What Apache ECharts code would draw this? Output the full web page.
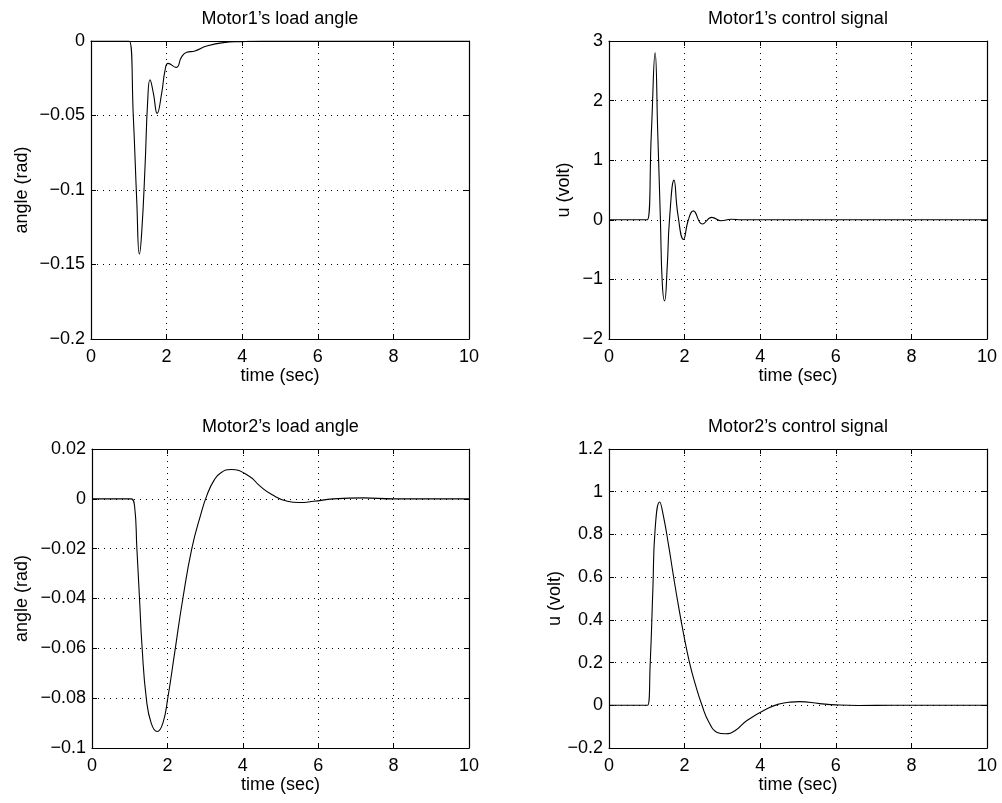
<!DOCTYPE html>
<html>
<head>
<meta charset="utf-8">
<script src="https://cdn.jsdelivr.net/npm/echarts@6/dist/echarts.min.js"></script>
<style>
  html, body { margin: 0; padding: 0; background: #fff; }
  #main { width: 1002px; height: 803px; }
</style>
</head>
<body>
<div id="main"></div>
<script type="text/javascript">
// Motor1's load angle (rad)
var m1AngleT = [0, 0.9, 1.01, 1.12, 1.21, 1.28, 1.34, 1.43, 1.50, 1.56, 1.65, 1.75, 1.87, 1.96, 2.04, 2.25, 2.40, 2.53, 2.75, 3.06, 3.5, 4.0, 4.55, 10];
var m1AngleY = [0, 0, 0, -0.051, -0.107, -0.143, -0.129, -0.084, -0.040, -0.026, -0.035, -0.0486, -0.035, -0.0195, -0.015, -0.0177, -0.0105, -0.0076, -0.0067, -0.0034, -0.0011, -0.0004, 0, 0];

// Motor1's control signal (volt)
var m1CtrlT = [0, 0.9, 1.01, 1.12, 1.22, 1.29, 1.36, 1.41, 1.47, 1.54, 1.6, 1.72, 1.82, 1.97, 2.1, 2.23, 2.47, 2.72, 2.97, 3.23, 3.5, 10];
var m1CtrlY = [0, 0, 0, 1.45, 2.80, 1.45, 0, -1.07, -1.36, -0.79, 0, 0.665, 0.1, -0.33, 0, 0.15, -0.07, 0.04, -0.017, 0.01, 0, 0];

// Motor2's load angle (rad)
var m2AngleT = [0, 0.9, 1.04, 1.13, 1.19, 1.26, 1.33, 1.44, 1.57, 1.73, 1.88, 2.01, 2.19, 2.41, 2.65, 2.89, 3.05, 3.24, 3.42, 3.69, 4.17, 4.45, 4.78, 5.18, 5.49, 5.88, 6.4, 7.2, 8, 10];
var m2AngleY = [0, 0, 0, -0.003, -0.0198, -0.040, -0.060, -0.080, -0.090, -0.0934, -0.090, -0.080, -0.062, -0.040, -0.0198, -0.006, 0.0015, 0.0075, 0.0105, 0.0118, 0.0091, 0.0052, 0.0016, -0.001, -0.0015, -0.001, 0, 0.0004, 0, 0];

// Motor2's control signal (volt)
var m2CtrlT = [0, 0.9, 1.02, 1.09, 1.16, 1.22, 1.34, 1.44, 1.58, 1.71, 1.84, 1.97, 2.13, 2.28, 2.46, 2.64, 2.86, 3.08, 3.34, 3.65, 4.22, 4.5, 4.8, 5.04, 5.57, 6.0, 6.6, 7.5, 10];
var m2CtrlY = [0, 0, 0, 0.196, 0.541, 0.824, 0.952, 0.886, 0.745, 0.6, 0.463, 0.337, 0.2, 0.1, 0, -0.078, -0.127, -0.133, -0.118, -0.071, -0.013, 0.006, 0.015, 0.017, 0.008, 0.002, -0.001, 0, 0];

var titles = ["Motor1\u2019s load angle", "Motor1\u2019s control signal", "Motor2\u2019s load angle", "Motor2\u2019s control signal"];
var yNames = ["angle (rad)", "u (volt)", "angle (rad)", "u (volt)"];
var yMin = [-0.2, -2, -0.1, -0.2];
var yMax = [0, 3, 0.02, 1.2];
var yStep = [0.05, 1, 0.02, 0.2];
var yNameGap = [60, 36, 61, 39];

var grids = [
    {left: 91, top: 41, width: 378, height: 298},
    {left: 609, top: 41, width: 378, height: 298},
    {left: 92, top: 449, width: 377, height: 299},
    {left: 609, top: 449, width: 378, height: 299}
];

var FONT = "Liberation Sans";
var FS = 18;

function zip(t, y) {
    var out = [];
    for (var i = 0; i < t.length; i++) out.push([t[i], y[i]]);
    return out;
}

function minus(v) {
    // matlab style labels with a real minus sign
    var s = String(Math.round(v * 1000) / 1000);
    return s.replace("-", "\u2212");
}

var seriesData = [zip(m1AngleT, m1AngleY), zip(m1CtrlT, m1CtrlY), zip(m2AngleT, m2AngleY), zip(m2CtrlT, m2CtrlY)];

var option = {
    animation: false,
    backgroundColor: "#fff",
    title: [],
    grid: grids,
    xAxis: [],
    yAxis: [],
    series: []
};

var dotted = {show: true, lineStyle: {color: "#000", type: [1, 5], width: 1}};
var tickIn = {show: true, inside: true, length: 5, lineStyle: {color: "#000"}};

for (var i = 0; i < 4; i++) {
    var g = grids[i];
    option.title.push({
        text: titles[i],
        left: g.left + g.width / 2,
        top: g.top - 31,
        padding: 0,
        textAlign: "center",
        textStyle: {fontFamily: FONT, fontSize: FS, fontWeight: "normal", color: "#000"}
    });
    // bottom x axis
    option.xAxis.push({
        gridIndex: i, type: "value", min: 0, max: 10, interval: 2,
        name: "time (sec)", nameLocation: "middle", nameGap: 27,
        nameTextStyle: {fontFamily: FONT, fontSize: FS, color: "#000"},
        axisLine: {show: true, onZero: false, lineStyle: {color: "#000", width: 1.2}},
        axisTick: tickIn,
        axisLabel: {fontFamily: FONT, fontSize: FS, color: "#000", margin: 9},
        splitLine: dotted
    });
    // top x axis (box edge)
    option.xAxis.push({
        gridIndex: i, type: "value", min: 0, max: 10, interval: 2, position: "top",
        axisLine: {show: true, onZero: false, lineStyle: {color: "#000", width: 1.2}},
        axisTick: tickIn, axisLabel: {show: false}, splitLine: {show: false}
    });
    // left y axis
    option.yAxis.push({
        gridIndex: i, type: "value", min: yMin[i], max: yMax[i], interval: yStep[i],
        name: yNames[i], nameLocation: "middle", nameGap: yNameGap[i], nameRotate: 90,
        nameTextStyle: {fontFamily: FONT, fontSize: FS, color: "#000"},
        axisLine: {show: true, onZero: false, lineStyle: {color: "#000", width: 1.2}},
        axisTick: tickIn,
        axisLabel: {fontFamily: FONT, fontSize: FS, color: "#000", margin: 6, formatter: minus},
        splitLine: dotted
    });
    // right y axis (box edge)
    option.yAxis.push({
        gridIndex: i, type: "value", min: yMin[i], max: yMax[i], interval: yStep[i], position: "right",
        axisLine: {show: true, onZero: false, lineStyle: {color: "#000", width: 1.2}},
        axisTick: tickIn, axisLabel: {show: false}, splitLine: {show: false}
    });
    option.series.push({
        type: "line",
        xAxisIndex: i * 2, yAxisIndex: i * 2,
        data: seriesData[i],
        smooth: 0.5,
        showSymbol: false,
        lineStyle: {color: "#000", width: 1.1},
        clip: true
    });
}

var myChart = echarts.init(document.getElementById("main"));
myChart.setOption(option);
</script>
</body>
</html>
